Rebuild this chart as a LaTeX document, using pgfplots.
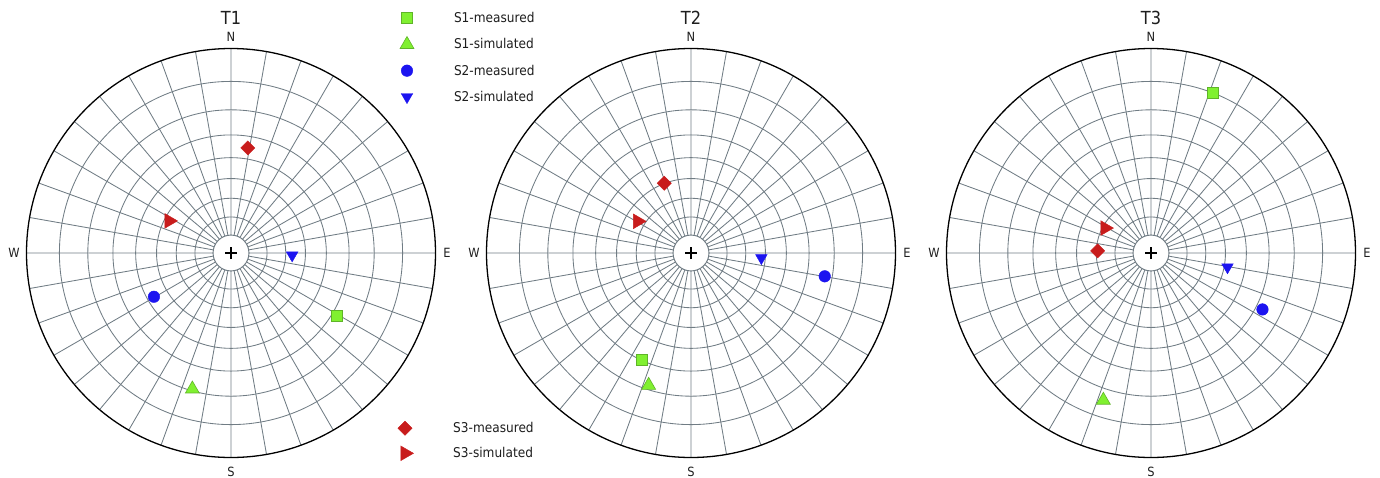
\documentclass[border=0pt]{standalone}
\usepackage{pgfplots}
\pgfplotsset{compat=1.18}
\usepgfplotslibrary{polar}
\usepackage{fontspec}
\setmainfont{DejaVu Sans Condensed}

\definecolor{gridc}{RGB}{112,124,132}
\definecolor{limefill}{RGB}{128,240,48}
\definecolor{limeedge}{RGB}{95,180,40}
\definecolor{bluem}{RGB}{28,20,240}
\definecolor{redm}{RGB}{200,28,28}
\definecolor{txt}{RGB}{30,30,30}

% marker styles for the six series
\tikzset{
  s1m/.style={mark=square*, mark size=5.5pt, mark options={fill=limefill, draw=limeedge, line width=0.6pt}},
  s1s/.style={mark=triangle*, mark size=8pt, mark options={fill=limefill, draw=limeedge, line width=0.6pt}},
  s2m/.style={mark=*, mark size=5.8pt, mark options={fill=bluem, draw=bluem, line width=0.4pt}},
  s2s/.style={mark=triangle*, mark size=6.7pt, mark options={rotate=180, fill=bluem, draw=bluem, line width=0.4pt}},
  s3m/.style={mark=square*, mark size=5pt, mark options={rotate=45, fill=redm, draw=redm, line width=0.4pt}},
  s3s/.style={mark=triangle*, mark size=8.5pt, mark options={rotate=-90, fill=redm, draw=redm, line width=0.4pt}},
}

% equal-angle net: radial lines every 10 deg, dip circles every 10 deg
\pgfplotsset{
  net/.style={
    width=409pt, height=409pt, scale only axis, anchor=center,
    ymin=0, ymax=1,
    xtick={0,10,...,350},
    ytick={0.0875,0.1763,0.2679,0.3640,0.4663,0.5774,0.7002,0.8391},
    xticklabels={}, yticklabels={},
    tick style={draw=none},
    grid=major,
    major grid style={draw=gridc, line width=0.85pt},
    axis line style={black, line width=1.3pt},
    y axis line style={draw=none},
    clip=false,
  },
  markkey/.style={
    legend cell align=left,
    legend image code/.code={%
      \path[draw=none, fill=none] (0pt,-8pt) rectangle (16pt,8pt);
      \path[##1] plot coordinates {(8pt,0pt)};},
  },
}
\newcommand{\hub}{%
  \fill[white] (axis cs:0,0) circle[radius=17.9pt];
  \draw[gridc, line width=0.85pt] (axis cs:0,0) circle[radius=17.9pt];
  \draw[black, line width=1.3pt] (axis cs:0,0) ++(-6pt,0pt) -- ++(12pt,0pt);
  \draw[black, line width=1.3pt] (axis cs:0,0) ++(0pt,-6pt) -- ++(0pt,12pt);
}

\begin{document}
\begin{tikzpicture}
\useasboundingbox (0pt,0pt) rectangle (1380pt,477pt);

% ---------------- T1 ----------------
\begin{polaraxis}[net, at={(231pt,224pt)}]
\hub
\addplot[only marks, data cs=cart, s1m] coordinates {(0.517,-0.305)};
\addplot[only marks, data cs=cart, s1s] coordinates {(-0.189,-0.665)};
\addplot[only marks, data cs=cart, s2m] coordinates {(-0.377,-0.214)};
\addplot[only marks, data cs=cart, s2s] coordinates {(0.299,-0.011)};
\addplot[only marks, data cs=cart, s3m] coordinates {(0.082,0.514)};
\addplot[only marks, data cs=cart, s3s] coordinates {(-0.303,0.157)};
\end{polaraxis}

% ---------------- T2 ----------------
\begin{polaraxis}[net, at={(691pt,224pt)}]
\hub
\addplot[only marks, data cs=cart, s1m] coordinates {(-0.241,-0.520)};
\addplot[only marks, data cs=cart, s1s] coordinates {(-0.207,-0.647)};
\addplot[only marks, data cs=cart, s2m] coordinates {(0.654,-0.114)};
\addplot[only marks, data cs=cart, s2s] coordinates {(0.344,-0.024)};
\addplot[only marks, data cs=cart, s3m] coordinates {(-0.131,0.341)};
\addplot[only marks, data cs=cart, s3s] coordinates {(-0.261,0.155)};
\end{polaraxis}

% ---------------- T3 ----------------
\begin{polaraxis}[net, at={(1151pt,224pt)}]
\hub
\addplot[only marks, data cs=cart, s1m] coordinates {(0.300,0.785)};
\addplot[only marks, data cs=cart, s1s] coordinates {(-0.233,-0.720)};
\addplot[only marks, data cs=cart, s2m] coordinates {(0.545,-0.276)};
\addplot[only marks, data cs=cart, s2s] coordinates {(0.374,-0.069)};
\addplot[only marks, data cs=cart, s3m] coordinates {(-0.261,0.010)};
\addplot[only marks, data cs=cart, s3s] coordinates {(-0.225,0.122)};
\end{polaraxis}

% ---------------- legends ----------------
\begin{axis}[hide axis, scale only axis, width=1380pt, height=477pt,
  at={(0pt,0pt)}, anchor=south west,
  xmin=0, xmax=1380, ymin=0, ymax=477, markkey,
  legend style={at={(0.28913,0.97841)}, anchor=north west, draw=none, fill=none,
    inner sep=0pt, outer sep=0pt, row sep=10.2pt, column sep=39pt,
    font=\fontsize{13.5}{16}\selectfont, text=txt, nodes={inner sep=0pt}}]
\addlegendimage{s1m}\addlegendentry{S1-measured}
\addlegendimage{s1s}\addlegendentry{S1-simulated}
\addlegendimage{s2m}\addlegendentry{S2-measured}
\addlegendimage{s2s}\addlegendentry{S2-simulated}
\end{axis}
\begin{axis}[hide axis, scale only axis, width=1380pt, height=477pt,
  at={(0pt,0pt)}, anchor=south west,
  xmin=0, xmax=1380, ymin=0, ymax=477, markkey,
  legend style={at={(0.28768,0.11887)}, anchor=north west, draw=none, fill=none,
    inner sep=0pt, outer sep=0pt, row sep=9pt, column sep=39.7pt,
    font=\fontsize{13.5}{16}\selectfont, text=txt, nodes={inner sep=0pt}}]
\addlegendimage{s3m}\addlegendentry{S3-measured}
\addlegendimage{s3s}\addlegendentry{S3-simulated}
\end{axis}

% ---------------- titles and compass letters ----------------
\foreach \cx/\t in {231/T1, 691/T2, 1151/T3}{
  \pgfmathsetmacro{\wx}{\cx-217}
  \pgfmathsetmacro{\ex}{\cx+216}
  \node[inner sep=0pt, text=txt, font=\fontsize{18}{20}\selectfont] at (\cx pt,459pt) {\t};
  \begin{scope}[every node/.style={inner sep=0pt, text=txt, font=\fontsize{12.7}{15}\selectfont}]
    \node at (\cx pt,440pt) {N};
    \node at (\cx pt,5.5pt) {S};
    \node at (\wx pt,224pt) {W};
    \node at (\ex pt,224pt) {E};
  \end{scope}
}
\end{tikzpicture}
\end{document}
